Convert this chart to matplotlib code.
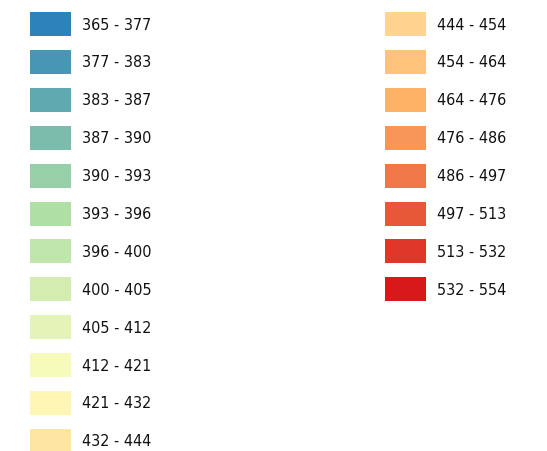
import matplotlib
matplotlib.use("Agg")
import matplotlib.pyplot as plt
from matplotlib.patches import Rectangle

# class breaks shown in the legend
labels = ["365 - 377", "377 - 383", "383 - 387", "387 - 390", "390 - 393",
          "393 - 396", "396 - 400", "400 - 405", "405 - 412", "412 - 421",
          "421 - 432", "432 - 444", "444 - 454", "454 - 464", "464 - 476",
          "476 - 486", "486 - 497", "497 - 513", "513 - 532", "532 - 554"]
colors = ["#2b83ba", "#4696b5", "#61a9b1", "#7cbcac", "#97cfa8",
          "#afdfa5", "#c1e6ab", "#d3edb1", "#e4f4b6", "#f6fbbc",
          "#fff6b5", "#fee5a1", "#fed48e", "#fec37a", "#fdb266",
          "#f79656", "#ef7748", "#e75839", "#df382b", "#d7191c"]
per_col = 12

W, H = 547, 451
fig = plt.figure(figsize=(W/100, H/100), dpi=100)
ax = fig.add_axes([0, 0, 1, 1])
ax.set_xlim(0, W)
ax.set_ylim(H, 0)
ax.axis('off')

col_x = [30, 385]
top = 12
step = 37.9
sw_w, sw_h = 41, 24

for i, (lab, c) in enumerate(zip(labels, colors)):
    col = i // per_col
    row = i % per_col
    x = col_x[col]
    y = top + row*step
    ax.add_patch(Rectangle((x, y), sw_w, sw_h, facecolor=c, edgecolor='none'))
    ax.text(x + 52, y + sw_h/2 + 1, lab, va='center', ha='left',
            fontsize=11.5, family='DejaVu Sans', fontstretch='condensed', color='#111111')

fig.savefig("out.png", dpi=100)
